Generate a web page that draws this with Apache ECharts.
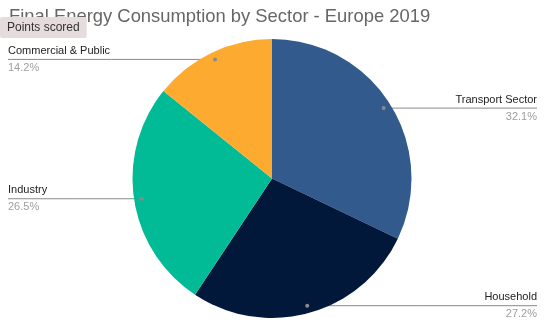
<!DOCTYPE html>
<html>
<head>
<meta charset="utf-8">
<script src="https://cdn.jsdelivr.net/npm/echarts@6/dist/echarts.min.js"></script>
<style>
  html, body { margin: 0; padding: 0; background: #fff; }
  #chart { width: 556px; height: 331px; }
</style>
</head>
<body>
<div id="chart"></div>
<script>
// Final energy consumption shares by sector, Europe 2019 (percent)
const sectors = ['Transport Sector', 'Household', 'Industry', 'Commercial & Public'];
const shares = [32.1, 27.2, 26.5, 14.2];
const sectorColors = ['#325a8c', '#02183a', '#00bb96', '#fdab30'];

const FONT = '"Liberation Sans", Arial, sans-serif';
const CX = 272, CY = 178.5, R = 139.5;
const DOT_R = 132;          // radius where each leader line starts
const LEFT_EDGE = 8, RIGHT_EDGE = 537;

const dots = [];

const chart = echarts.init(document.getElementById('chart'), null, { renderer: 'canvas' });

function buildOption() {
  return {
    animation: false,
    title: {
      text: 'Final Energy Consumption by Sector - Europe 2019',
      left: 4,
      top: 3,
      textStyle: { fontFamily: FONT, fontSize: 18.4, fontWeight: 'normal', color: '#666666' }
    },
    series: [{
      type: 'pie',
      center: [CX, CY],
      radius: [0, R],
      startAngle: 90,
      clockwise: true,
      avoidLabelOverlap: false,
      itemStyle: { borderWidth: 0 },
      data: sectors.map((name, i) => ({
        name: name,
        value: shares[i],
        itemStyle: { color: sectorColors[i] }
      })),
      label: {
        show: true,
        position: 'outside',
        fontFamily: FONT,
        formatter: p => '{name|' + p.name + '}\n{pct|' + p.value.toFixed(1) + '%}',
        rich: {
          name: { fontFamily: FONT, fontSize: 11, color: '#222222', lineHeight: 17 },
          pct: { fontFamily: FONT, fontSize: 11, color: '#9e9e9e', lineHeight: 17 }
        }
      },
      labelLine: {
        show: true,
        length: 10,
        length2: 10,
        lineStyle: { color: '#8a8a8a', width: 1 }
      },
      labelLayout: function (params) {
        const pts = params.labelLinePoints;
        if (!pts) return {};
        const p0 = pts[0];
        const k = DOT_R / R;
        const dx = CX + (p0[0] - CX) * k;
        const dy = CY + (p0[1] - CY) * k;
        dots[params.dataIndex] = [dx, dy];
        const right = p0[0] >= CX;
        const edgeX = right ? RIGHT_EDGE : LEFT_EDGE;
        return {
          x: edgeX,
          y: dy,
          align: right ? 'right' : 'left',
          verticalAlign: 'middle',
          labelLinePoints: [[dx, dy], [(dx + edgeX) / 2, dy], [edgeX, dy]]
        };
      }
    }]
  };
}

chart.setOption(buildOption());

// Small markers where each leader line meets its slice, plus the hover caption box
const graphics = dots.map(d => ({
  type: 'circle',
  shape: { cx: d[0], cy: d[1], r: 2 },
  style: { fill: '#8a8a8a' },
  z: 10
}));
graphics.push({
  type: 'text',
  left: 0,
  top: 17,
  z: 20,
  style: {
    text: 'Points scored',
    font: '12px ' + FONT,
    fill: '#333333',
    backgroundColor: '#e6dcdd',
    padding: [5, 7, 4, 7],
    borderRadius: 2
  }
});
chart.setOption({ graphic: graphics });
</script>
</body>
</html>
